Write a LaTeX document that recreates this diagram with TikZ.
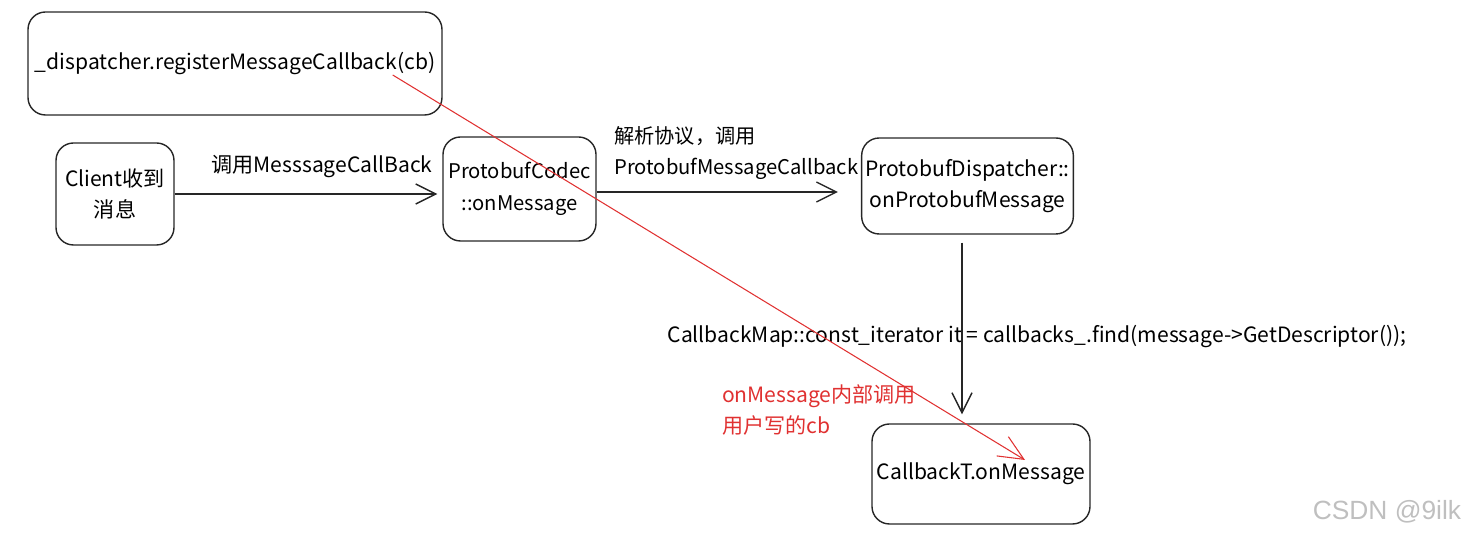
\documentclass[tikz,border=0pt]{standalone}
\usepackage{fontspec}
\setmainfont{Noto Sans CJK SC}
\newfontfamily\markfont{Liberation Sans}
\usetikzlibrary{arrows.meta, positioning}
\definecolor{inkred}{RGB}{224,49,49}

\begin{document}
\begin{tikzpicture}[
    block/.style={rectangle, rounded corners=0.35cm, inner sep=2pt, draw=black!85, thick,
                  align=center, font=\fontsize{12}{18}\selectfont},
    arrow/.style={-{Straight Barb[length=4mm, width=4mm]}, thick, black!85},
    edgetext/.style={font=\fontsize{12}{18}\selectfont, align=left},
    note/.style={font=\fontsize{12}{17.5}\selectfont, align=left, text=inkred}]

    \useasboundingbox (0,0) rectangle (29.32,10.72);

    % Registration (top)
    \node[block, minimum width=8.28cm, minimum height=2.06cm] (reg) at (4.70,9.45) {\_dispatcher.registerMessageCallback(cb)};

    % Message chain (middle)
    \node[block, minimum width=2.36cm, minimum height=2.04cm] (client) at (2.30,6.84) {Client收到\\消息};
    \node[block, minimum width=3.06cm, minimum height=2.08cm, font=\fontsize{11.5}{18}\selectfont] (codec) at (10.39,6.94) {ProtobufCodec\\::onMessage};
    \node[block, minimum width=4.18cm, minimum height=1.92cm] (disp) at (19.35,7.00) {ProtobufDispatcher::\\onProtobufMessage};

    % User callback (bottom)
    \node[block, minimum width=4.36cm, minimum height=2.00cm] (cbT) at (19.62,1.24) {CallbackT.onMessage};

    % Connections
    \draw[arrow, shorten >=0.1cm] (client.east) -- (client.east -| codec.west);
    \node[edgetext] (callbk) at (6.44,7.38) {调用MesssageCallBack};
    \draw[arrow, shorten >=0.46cm] ([yshift=-0.06cm]codec.east) -- ([yshift=-0.06cm]codec.east -| disp.west);
    \node[edgetext, anchor=west, font=\fontsize{11.5}{18}\selectfont] (parse) at (12.16,7.66) {解析协议，调用\\ProtobufMessageCallback};
    \node[edgetext] (lookup) at (20.74,3.98) {CallbackMap::const\_iterator it = callbacks\_.find(message->GetDescriptor());};
    \draw[arrow, shorten <=0.16cm, shorten >=0.18cm] ([xshift=-0.11cm]disp.south) -- ([xshift=-0.11cm]disp.south |- cbT.north);

    % cb is called from onMessage
    \draw[-{Straight Barb[length=5mm, width=4.5mm]}, semithick, inkred]
          ([xshift=-1.00cm, yshift=-0.23cm]reg.east) -- ([xshift=0.88cm, yshift=0.28cm]cbT.center);
    \node[note, anchor=west] (cbnote) at (14.32,2.52) {onMessage内部调用\\用户写的cb};

    \node[font=\markfont\fontsize{15}{15}\selectfont, text=black!25] (mark) at (27.74,0.48) {CSDN @9ilk};

\end{tikzpicture}
\end{document}
